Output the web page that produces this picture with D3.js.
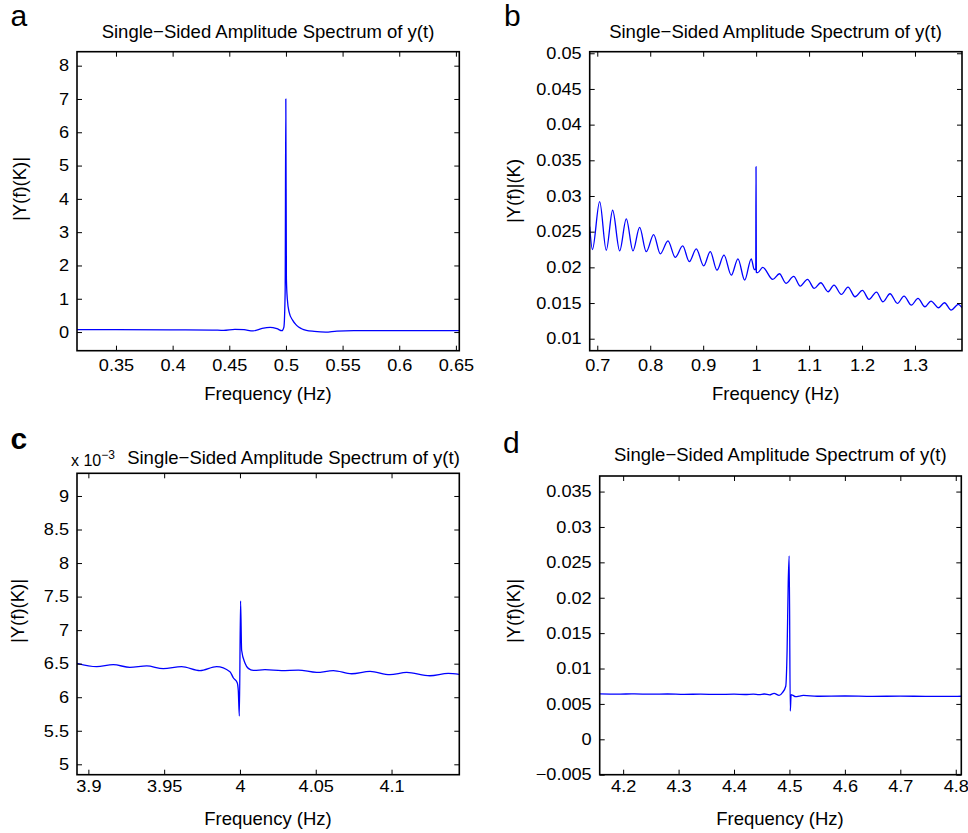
<!DOCTYPE html>
<html>
<head>
<meta charset="utf-8">
<script src="https://cdn.jsdelivr.net/npm/d3@7"></script>
<style>
  html, body { margin: 0; padding: 0; background: #fff; }
  svg { display: block; font-family: "Liberation Sans", Arial, Helvetica, sans-serif; }
</style>
</head>
<body>
<svg id="chart" width="968" height="833"></svg>
<script>
// ---------------- DATA ----------------
// Panel a
const aFreq = [0.3156, 0.35, 0.40, 0.435, 0.445, 0.455, 0.463, 0.471, 0.479, 0.486, 0.492, 0.4965, 0.4982, 0.4993, 0.4999, 0.5004, 0.5012, 0.5028, 0.506, 0.5094, 0.5138, 0.518, 0.525, 0.535, 0.545, 0.56, 0.6, 0.653];
const aAmp  = [0.075, 0.072, 0.065, 0.06, 0.05, 0.08, 0.07, 0.035, 0.11, 0.14, 0.1, 0.04, 0.15, 1.2, 7.0, 1.6, 1.0, 0.6, 0.35, 0.2, 0.1, 0.05, 0.02, 0.0, 0.03, 0.04, 0.04, 0.04];
const aXTicks = [0.35, 0.4, 0.45, 0.5, 0.55, 0.6, 0.65];
const aYTicks = [0, 1, 2, 3, 4, 5, 6, 7, 8];

// Panel b
const bFreq = [0.6857, 0.6908, 0.7045, 0.717, 0.729, 0.7423, 0.7548, 0.7674, 0.780, 0.7925, 0.8065, 0.819, 0.8335, 0.8473, 0.8613, 0.8738, 0.887, 0.901, 0.9134, 0.926, 0.9393, 0.9531, 0.9657, 0.9784, 0.9908, 0.9965, 0.9993, 0.9998, 1.0004, 1.003, 1.0125, 1.0314, 1.044, 1.0564, 1.0709, 1.0834, 1.097, 1.1097, 1.122, 1.136, 1.147, 1.161, 1.1735, 1.1868, 1.2007, 1.2132, 1.2272, 1.2396, 1.2528, 1.2668, 1.2793, 1.2932, 1.3057, 1.3189, 1.3302, 1.3444, 1.3557, 1.3683, 1.3818, 1.3888];
const bAmp  = [0.0257, 0.0225, 0.0292, 0.0224, 0.0280, 0.0223, 0.0268, 0.0223, 0.0256, 0.0222, 0.0246, 0.0219, 0.0237, 0.0214, 0.0230, 0.0208, 0.0226, 0.0202, 0.0222, 0.0196, 0.0217, 0.0189, 0.0212, 0.0182, 0.0212, 0.0197, 0.0197, 0.0341, 0.0193, 0.01925, 0.0200, 0.01832, 0.0191, 0.01776, 0.01874, 0.01738, 0.01832, 0.01706, 0.01784, 0.01658, 0.01752, 0.01621, 0.01724, 0.01588, 0.01678, 0.01551, 0.01654, 0.01518, 0.0163, 0.01495, 0.01598, 0.01471, 0.01565, 0.01448, 0.01528, 0.01434, 0.01504, 0.01401, 0.01481, 0.01434];
const bXTicks = [0.7, 0.8, 0.9, 1.0, 1.1, 1.2, 1.3];
const bYTicks = [0.01, 0.015, 0.02, 0.025, 0.03, 0.035, 0.04, 0.045, 0.05];

// Panel c (amplitude in units of 10^-3)
const cFreq = [3.8923, 3.9055, 3.9164, 3.9274, 3.9385, 3.9494, 3.9615, 3.9736, 3.9846, 3.9934, 3.9956, 3.9982, 3.9989, 3.9996, 4.0004, 4.0011, 4.0033, 4.0055, 4.0088, 4.0165, 4.0275, 4.0385, 4.0506, 4.0616, 4.0737, 4.0858, 4.0989, 4.11, 4.1253, 4.1374, 4.1447];
const cAmp  = [6.506, 6.455, 6.485, 6.446, 6.466, 6.425, 6.455, 6.396, 6.455, 6.38, 6.29, 6.217, 6.1, 5.72, 7.435, 6.70, 6.51, 6.43, 6.40, 6.41, 6.396, 6.405, 6.37, 6.396, 6.35, 6.385, 6.336, 6.37, 6.32, 6.355, 6.34];
const cXTicks = [3.9, 3.95, 4.0, 4.05, 4.1];
const cYTicks = [5, 5.5, 6, 6.5, 7, 7.5, 8, 8.5, 9];

// Panel d
const dFreq = [4.1577, 4.19, 4.22, 4.25, 4.28, 4.31, 4.34, 4.37, 4.40, 4.42, 4.435, 4.445, 4.455, 4.464, 4.4723, 4.4814, 4.4873, 4.4933, 4.4958, 4.4978, 4.4995, 4.5015, 4.503, 4.5054, 4.5114, 4.5175, 4.525, 4.55, 4.6, 4.65, 4.7, 4.75, 4.81];
const dAmp  = [0.00643, 0.00639, 0.00641, 0.00637, 0.0064, 0.00635, 0.00638, 0.00634, 0.00637, 0.00633, 0.00639, 0.00632, 0.0064, 0.00628, 0.0065, 0.0062, 0.0066, 0.0075, 0.0127, 0.0222, 0.0259, 0.0040, 0.0063, 0.00624, 0.00602, 0.0061, 0.0062, 0.00608, 0.00612, 0.00607, 0.0061, 0.00606, 0.00608];
const dXTicks = [4.2, 4.3, 4.4, 4.5, 4.6, 4.7, 4.8];
const dYTicks = [-0.005, 0, 0.005, 0.01, 0.015, 0.02, 0.025, 0.03, 0.035];

const titleText = "Single\u2212Sided Amplitude Spectrum of y(t)";
const xLabelText = "Frequency (Hz)";

// ---------------- DRAW ----------------
const svg = d3.select("#chart");
const fmt = v => String(+v.toFixed(4)).replace("-", "\u2212");

function stretch(sel, f) {
  sel.each(function () {
    const w = this.getComputedTextLength();
    if (w > 0) {
      this.setAttribute("textLength", (w * f).toFixed(2));
      this.setAttribute("lengthAdjust", "spacingAndGlyphs");
    }
  });
}

function panel(cfg) {
  const g = svg.append("g");
  const x = d3.scaleLinear().domain(cfg.xDom).range([cfg.box[0], cfg.box[1]]);
  const y = d3.scaleLinear().domain(cfg.yDom).range([cfg.box[3], cfg.box[2]]);
  const id = "clip-" + cfg.letter;
  svg.append("clipPath").attr("id", id).append("rect")
    .attr("x", cfg.box[0]).attr("y", cfg.box[2])
    .attr("width", cfg.box[1] - cfg.box[0]).attr("height", cfg.box[3] - cfg.box[2]);

  const pts = cfg.xs.map((v, i) => [v, cfg.ys[i]]);
  g.append("path").datum(pts)
    .attr("clip-path", `url(#${id})`)
    .attr("fill", "none").attr("stroke", "#0000ff").attr("stroke-width", 1.3)
    .attr("stroke-linejoin", "round")
    .attr("d", d3.line().x(d => x(d[0])).y(d => y(d[1])).curve(d3.curveMonotoneX));

  const tick = 5;
  const axB = g.append("g").attr("transform", `translate(0,${cfg.box[3]})`)
    .call(d3.axisBottom(x).tickValues(cfg.xt).tickFormat(fmt).tickSizeInner(-tick).tickSizeOuter(0).tickPadding(cfg.xPad));
  const axT = g.append("g").attr("transform", `translate(0,${cfg.box[2]})`)
    .call(d3.axisTop(x).tickValues(cfg.xt).tickFormat("").tickSizeInner(-tick).tickSizeOuter(0));
  const axL = g.append("g").attr("transform", `translate(${cfg.box[0]},0)`)
    .call(d3.axisLeft(y).tickValues(cfg.yt).tickFormat(fmt).tickSizeInner(-tick).tickSizeOuter(0).tickPadding(8));
  const axR = g.append("g").attr("transform", `translate(${cfg.box[1]},0)`)
    .call(d3.axisRight(y).tickValues(cfg.yt).tickFormat("").tickSizeInner(-tick).tickSizeOuter(0));
  [axB, axT, axL, axR].forEach(a => {
    a.select(".domain").remove();
    a.selectAll(".tick line").attr("stroke", "#000").attr("stroke-width", 1);
    a.selectAll("text").attr("font-size", 16.5).attr("fill", "#000")
      .attr("font-family", "Liberation Sans, Arial, sans-serif");
  });
  stretch(axB.selectAll("text"), 1.1);
  stretch(axL.selectAll("text"), 1.1);

  g.append("rect")
    .attr("x", cfg.box[0]).attr("y", cfg.box[2])
    .attr("width", cfg.box[1] - cfg.box[0]).attr("height", cfg.box[3] - cfg.box[2])
    .attr("fill", "none").attr("stroke", "#000").attr("stroke-width", 1.6);

  g.append("text").attr("x", cfg.title[0]).attr("y", cfg.title[1])
    .attr("text-anchor", "middle").attr("font-size", 18.5).attr("fill", "#000")
    .text(titleText);
  g.append("text").attr("x", cfg.xlab[0]).attr("y", cfg.xlab[1])
    .attr("text-anchor", "middle").attr("font-size", 18.5).attr("fill", "#000")
    .text(xLabelText);
  g.append("text")
    .attr("transform", `translate(${cfg.ylab[0]},${cfg.ylab[1]}) rotate(-90)`)
    .attr("text-anchor", "middle").attr("font-size", 18.5).attr("fill", "#000")
    .text(cfg.ylabText);
  g.append("text").attr("x", cfg.let[0]).attr("y", cfg.let[1])
    .attr("font-size", 30).attr("fill", "#000")
    .attr("font-weight", cfg.letBold ? "bold" : "normal")
    .text(cfg.letter);
  return { g, x, y };
}

panel({
  letter: "a", let: [10.5, 25.5],
  xs: aFreq, ys: aAmp, xt: aXTicks, yt: aYTicks,
  xDom: [0.3156, 0.653], yDom: [-0.56, 8.42],
  box: [77, 459.3, 51.7, 350.7], xPad: 9,
  title: [268, 38.3], xlab: [268, 399.5], ylab: [25.5, 189],
  ylabText: "|Y(f)(K)|"
});

panel({
  letter: "b", let: [504, 25.5],
  xs: bFreq, ys: bAmp, xt: bXTicks, yt: bYTicks,
  xDom: [0.6857, 1.3888], yDom: [0.00832, 0.05022],
  box: [589.7, 962, 51.7, 350.7], xPad: 9,
  title: [775.5, 38.3], xlab: [775.7, 399.5], ylab: [519.5, 191],
  ylabText: "|Y(f)|(K)"
});

const pc = panel({
  letter: "c", let: [10.5, 449.3], letBold: true,
  xs: cFreq, ys: cAmp, xt: cXTicks, yt: cYTicks,
  xDom: [3.8925, 4.1447], yDom: [4.845, 9.338],
  box: [77, 459.3, 473.3, 774.7], xPad: 6,
  title: [293.5, 464.3], xlab: [268, 825.3], ylab: [23.8, 611],
  ylabText: "|Y(f)(K)|"
});
// exponent label for panel c
const ex = pc.g.append("text").attr("x", 71).attr("y", 466).attr("font-size", 16).attr("fill", "#000");
ex.append("tspan").text("x 10");
ex.append("tspan").attr("dy", -7).attr("font-size", 12).text("\u22123");

panel({
  letter: "d", let: [503, 452.7],
  xs: dFreq, ys: dAmp, xt: dXTicks, yt: dYTicks,
  xDom: [4.1577, 4.8100], yDom: [-0.005, 0.0372],
  box: [599.7, 961.3, 476, 774.7], xPad: 6,
  title: [780.3, 461], xlab: [780, 825.3], ylab: [519.5, 611],
  ylabText: "|Y(f)(K)|"
});
</script>
</body>
</html>
